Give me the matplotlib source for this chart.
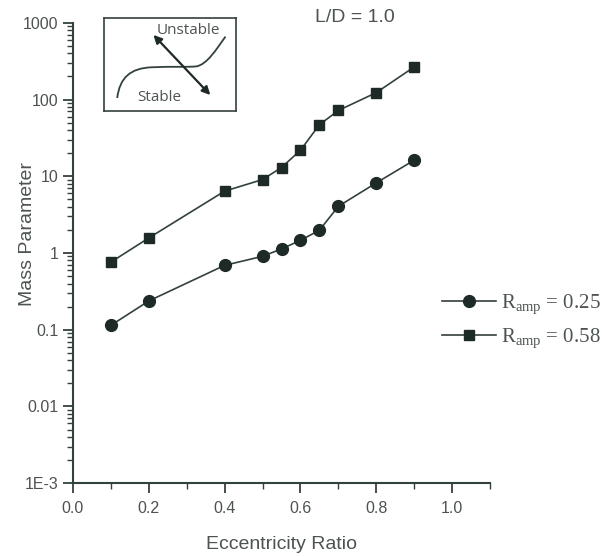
import matplotlib
matplotlib.use("Agg")
import matplotlib.pyplot as plt
from matplotlib.path import Path
from matplotlib.patches import PathPatch
from matplotlib.ticker import FixedLocator, LogLocator, NullFormatter, FixedFormatter

# Data
ecc = [0.1, 0.2, 0.4, 0.5, 0.55, 0.6, 0.65, 0.7, 0.8, 0.9]
mass_r025 = [0.114, 0.237, 0.69, 0.905, 1.13, 1.46, 1.98, 4.06, 8.2, 16.2]
mass_r058 = [0.76, 1.57, 6.4, 9.05, 13.0, 21.8, 47.0, 72.0, 123.0, 266.0]
labels = [r"R$_{\mathrm{amp}}$ = 0.25", r"R$_{\mathrm{amp}}$ = 0.58"]
ytick_vals = [1e-3, 1e-2, 1e-1, 1, 10, 100, 1000]
ytick_labels = ["1E-3", "0.01", "0.1", "1", "10", "100", "1000"]
xtick_vals = [0.0, 0.2, 0.4, 0.6, 0.8, 1.0]
xtick_labels = ["0.0", "0.2", "0.4", "0.6", "0.8", "1.0"]

mark_col = "#1e2a27"
line_col = "#33413d"
text_col = "#4d5350"

plt.rcParams["font.family"] = ["Liberation Sans", "DejaVu Sans"]
plt.rcParams["mathtext.fontset"] = "custom"
plt.rcParams["mathtext.rm"] = "Liberation Serif"
plt.rcParams["mathtext.it"] = "Liberation Serif:italic"
plt.rcParams["mathtext.bf"] = "Liberation Serif:bold"

fig = plt.figure(figsize=(6.08, 5.56), dpi=100)
ax = fig.add_axes([0.120, 0.131, 0.686, 0.828])

ax.plot(ecc, mass_r025, color=line_col, lw=1.2, marker="o", ms=8.5,
        mfc=mark_col, mec=mark_col, label=labels[0])
ax.plot(ecc, mass_r058, color=line_col, lw=1.2, marker="s", ms=7,
        mfc=mark_col, mec=mark_col, label=labels[1])

ax.set_yscale("log")
ax.set_ylim(1e-3, 1000)
ax.set_xlim(0, 1.1)
ax.yaxis.set_major_locator(FixedLocator(ytick_vals))
ax.yaxis.set_major_formatter(FixedFormatter(ytick_labels))
ax.yaxis.set_minor_locator(LogLocator(base=10, subs=range(2, 10), numticks=20))
ax.yaxis.set_minor_formatter(NullFormatter())
ax.xaxis.set_major_locator(FixedLocator(xtick_vals))
ax.xaxis.set_major_formatter(FixedFormatter(xtick_labels))
ax.xaxis.set_minor_locator(FixedLocator([0.1, 0.3, 0.5, 0.7, 0.9, 1.1]))

for s in ["top", "right"]:
    ax.spines[s].set_visible(False)
for s in ["left", "bottom"]:
    ax.spines[s].set_color(line_col)
    ax.spines[s].set_linewidth(1.5)

ax.tick_params(which="major", direction="out", length=7, width=1.3, color=line_col,
               labelsize=11.5, labelcolor=text_col)
ax.tick_params(which="minor", direction="out", length=4, width=1.0, color=line_col)
ax.tick_params(axis="x", which="major", pad=6)

ax.set_xlabel("Eccentricity Ratio", fontsize=14, color=text_col, labelpad=14)
ax.set_ylabel("Mass Parameter", fontsize=14, color=text_col)
ax.yaxis.set_label_coords(-0.088, 0.542)

fig.text(0.584, 0.969, "L/D = 1.0", fontsize=14, color=text_col, ha="center", va="center")

leg = ax.legend(loc="center left", bbox_to_anchor=(0.885, 0.351), frameon=False,
                borderaxespad=0, borderpad=0,
                handlelength=2.6, handletextpad=0.25, labelspacing=0.5,
                prop={"family": ["Liberation Serif"], "size": 15})
for t in leg.get_texts():
    t.set_color(text_col)

# Inset schematic
ins = fig.add_axes([104 / 608, 1 - 111 / 556, 132 / 608, 93 / 556])
ins.set_xlim(0, 1)
ins.set_ylim(0, 1)
ins.set_xticks([])
ins.set_yticks([])
for s in ins.spines.values():
    s.set_color(line_col)
    s.set_linewidth(1.2)
verts = [(0.10, 0.14), (0.12, 0.36), (0.20, 0.46), (0.36, 0.47),
         (0.52, 0.48), (0.64, 0.47), (0.70, 0.48),
         (0.78, 0.50), (0.85, 0.66), (0.92, 0.80)]
codes = [Path.MOVETO, Path.CURVE4, Path.CURVE4, Path.CURVE4,
         Path.CURVE4, Path.CURVE4, Path.CURVE4,
         Path.CURVE4, Path.CURVE4, Path.CURVE4]
ins.add_patch(PathPatch(Path(verts, codes), fill=False, ec=line_col, lw=1.3))
ins.annotate("", xy=(0.36, 0.84), xytext=(0.82, 0.15),
             arrowprops=dict(arrowstyle="<|-|>", color=mark_col, lw=1.6,
                             mutation_scale=12))
ins.text(0.40, 0.87, "Unstable", fontsize=11, color=text_col, ha="left", va="center",
         family=["Open Sans", "DejaVu Sans"])
ins.text(0.25, 0.15, "Stable", fontsize=11, color=text_col, ha="left", va="center",
         family=["Open Sans", "DejaVu Sans"])

fig.savefig("out.png", dpi=100)
